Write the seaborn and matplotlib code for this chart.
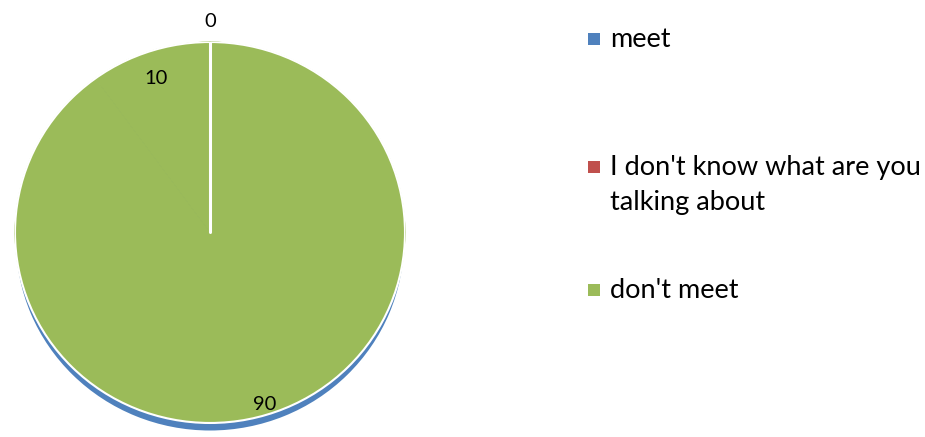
import numpy as np
import seaborn as sns
import matplotlib.pyplot as plt
from matplotlib.patches import Rectangle

sns.set_style("white")
plt.rcParams['font.family'] = ['Lato', 'DejaVu Sans']

# data
categories = ['meet', "I don't know what are you\ntalking about", "don't meet"]
values = [0, 10, 90]
series_colors = ['#4f81bd', '#c0504d', '#9bbb59']
face_color = '#9bbb59'
depth = 0.045

fig = plt.figure(figsize=(9.25, 4.37), dpi=100)
ax = fig.add_axes([15 / 925, 4.5 / 437, 390 / 925, 390.5 / 437])

# 3d side of the pie, shows up as a blue rim at the bottom
ax.pie([sum(values)], colors=[series_colors[0]], radius=1, center=(0, -depth),
       startangle=90, wedgeprops=dict(edgecolor='white', linewidth=1.5))

# top face: the rendering shows the whole face in green
wedges, _ = ax.pie(values, colors=[face_color] * len(values), radius=1,
                   startangle=90, counterclock=True,
                   wedgeprops=dict(edgecolor=face_color, linewidth=0.6))
ax.add_patch(plt.Circle((0, 0), 1, fill=False, edgecolor='white', linewidth=1.5))
# white line where the first slice starts
ang0 = np.deg2rad(wedges[0].theta1)
ax.plot([0, np.cos(ang0)], [0, np.sin(ang0)], color='white', lw=2.2)

# value labels
for w, v in zip(wedges, values):
    mid = np.deg2rad((w.theta1 + w.theta2) / 2)
    r = 1.15 if v == 0 else 0.9
    ax.text(r * np.cos(mid), r * np.sin(mid) - depth, str(v), ha='center', va='center',
            fontsize=14.5, color='black')

ax.set_xlim(-1, 1)
ax.set_ylim(-1 - depth - 0.005, 1)
ax.set_aspect('auto')
ax.axis('off')

# legend, entries spaced by their first line like the original
baselines = [47, 175, 298]
line_pitch = 35
for lab, c, yb in zip(categories, series_colors, baselines):
    fig.patches.append(Rectangle((588 / 925, 1 - (yb - 2) / 437), 12 / 925, 12 / 437,
                                 transform=fig.transFigure, facecolor=c, edgecolor='none'))
    for i, line in enumerate(lab.split('\n')):
        fig.text(610 / 925, 1 - (yb + i * line_pitch) / 437, line, ha='left',
                 va='baseline', fontsize=19.5, color='black')

fig.savefig('out.png', dpi=100)
